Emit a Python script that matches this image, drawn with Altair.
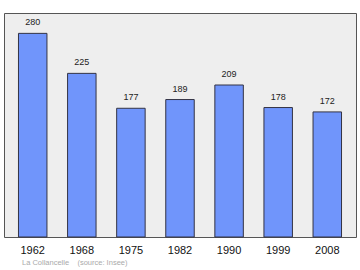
import altair as alt
import pandas as pd

years = ["1962", "1968", "1975", "1982", "1990", "1999", "2008"]
population = [280, 225, 177, 189, 209, 178, 172]
caption = "La Collancelle\u00a0\u00a0\u00a0\u00a0(source: Insee)"

df = pd.DataFrame({"year": years, "pop": population})

x = alt.X("year:N", sort=years, title=None,
          scale=alt.Scale(paddingInner=0.42, paddingOuter=0.295),
          axis=alt.Axis(labelAngle=0, ticks=False, domain=False, labelFontSize=11,
                        labelFont="Liberation Sans", labelColor="#111111", labelPadding=7))
y = alt.Y("pop:Q", title=None, scale=alt.Scale(domain=[0, 308], nice=False),
          axis=None)

base = alt.Chart(df)
bars = base.mark_bar(color="#7095fb", stroke="#333344", strokeWidth=1).encode(x=x, y=y)
labels = base.mark_text(baseline="bottom", dy=-6, fontSize=9, font="Liberation Sans",
                        color="#222222").encode(x=x, y=y, text="pop:Q")
cap = alt.Chart(pd.DataFrame({"t": [caption]})).mark_text(
    align="left", baseline="middle", fontSize=7.5, font="Liberation Sans", color="#aaaaaa"
).encode(x=alt.value(18), y=alt.value(250), text="t:N")

chart = alt.layer(bars, labels, cap).properties(
    width=352, height=224,
    autosize=alt.AutoSizeParams(type="none"),
    padding={"left": 4, "top": 13, "right": 4, "bottom": 33},
    background="white",
).configure_view(fill="#eeeeee", stroke="#555555", strokeWidth=1)

chart.save("out.html", embed_options={"renderer": "svg", "actions": False})
